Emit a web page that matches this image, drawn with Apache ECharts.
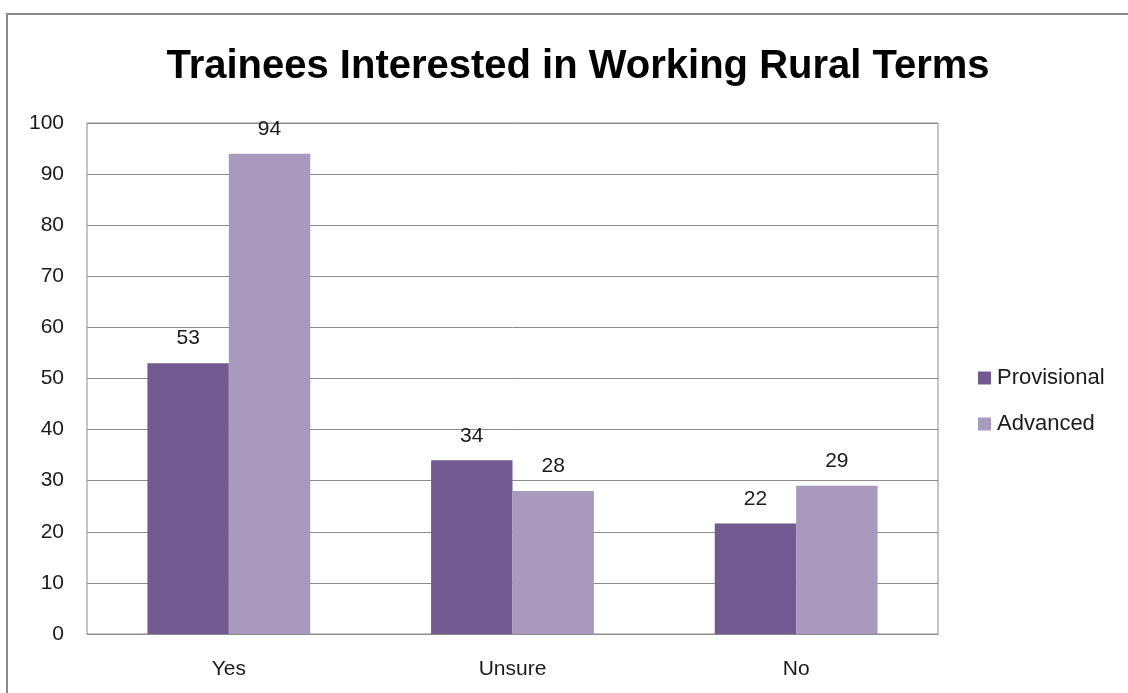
<!DOCTYPE html>
<html>
<head>
<meta charset="utf-8">
<script src="https://cdn.jsdelivr.net/npm/echarts@6/dist/echarts.min.js"></script>
<style>
  html, body { margin: 0; padding: 0; background: #fff; }
  #chart { width: 1128px; height: 693px; }
</style>
</head>
<body>
<div id="chart"></div>
<script>
// 数据
const categories = ['Yes', 'Unsure', 'No']
const provisional = [53, 34, 21.6]
const advanced = [94, 28, 29]
const yTicks = [0, 10, 20, 30, 40, 50, 60, 70, 80, 90, 100]

const font = 'Liberation Sans, Arial, sans-serif'
const textColor = '#1a1a1a'

const chart = echarts.init(document.getElementById('chart'))

const barLabel = {
  show: true,
  position: 'top',
  distance: 14,
  fontFamily: font,
  fontSize: 21,
  color: textColor,
  formatter: (p) => Math.round(p.value)
}

const option = {
  backgroundColor: '#fff',
  animation: false,
  title: {
    text: 'Trainees Interested in Working Rural Terms',
    left: 573,
    textAlign: 'center',
    top: 42,
    textStyle: {
      fontFamily: font,
      fontSize: 40,
      fontWeight: 'bold',
      color: '#000'
    }
  },
  legend: {
    orient: 'vertical',
    left: 973,
    top: 362,
    itemWidth: 13,
    itemHeight: 13,
    itemGap: 24,
    icon: 'rect',
    data: ['Provisional', 'Advanced'],
    textStyle: { fontFamily: font, fontSize: 22, color: textColor, padding: [0, 0, 0, 1] }
  },
  graphic: [{
    type: 'rect',
    shape: { x: 7, y: 14, width: 1300, height: 900 },
    style: { fill: 'none', stroke: '#8a8a8a', lineWidth: 2 },
    silent: true
  }],
  grid: {
    left: 87,
    right: 190,
    top: 123,
    bottom: 59,
    show: true,
    borderColor: '#8c8c8c',
    borderWidth: 1
  },
  xAxis: {
    type: 'category',
    data: categories,
    axisLine: { show: true, lineStyle: { color: '#8c8c8c' } },
    axisTick: { show: false },
    axisLabel: { fontFamily: font, fontSize: 21, color: textColor, margin: 25 }
  },
  yAxis: {
    type: 'value',
    min: 0,
    max: 100,
    interval: 10,
    axisLine: { show: false },
    axisTick: { show: false },
    axisLabel: {
      fontFamily: font, fontSize: 21, color: textColor, margin: 23,
      customValues: yTicks
    },
    splitLine: { lineStyle: { color: '#8c8c8c', width: 1 } }
  },
  series: [
    {
      name: 'Provisional',
      type: 'bar',
      data: provisional,
      barGap: '0%',
      barCategoryGap: '42.6%',
      itemStyle: { color: '#72598f' },
      label: barLabel
    },
    {
      name: 'Advanced',
      type: 'bar',
      data: advanced,
      itemStyle: { color: '#a899bf' },
      label: barLabel
    }
  ]
}

chart.setOption(option)
</script>
</body>
</html>
